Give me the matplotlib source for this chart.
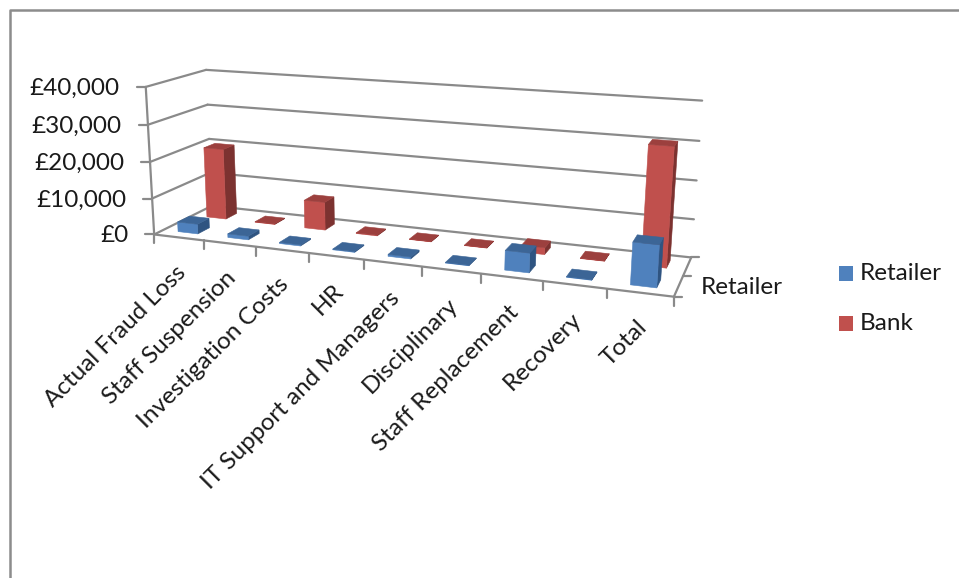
import matplotlib
matplotlib.use('Agg')
import matplotlib.pyplot as plt
from matplotlib.patches import Polygon, Rectangle
import numpy as np

categories = ['Actual Fraud Loss', 'Staff Suspension', 'Investigation Costs', 'HR',
              'IT Support and Managers', 'Disciplinary', 'Staff Replacement', 'Recovery', 'Total']
series_names = ['Retailer', 'Bank']
retailer = [2700, 1000, 300, 200, 500, 150, 5000, 150, 10500]
bank = [20000, 150, 7800, 200, 100, 100, 1800, 100, 30500]
y_ticks = [0, 10000, 20000, 30000, 40000]
y_labels = ['£0', '£10,000', '£20,000', '£30,000', '£40,000']

blue = {'front': '#4f81bd', 'top': '#3c6596', 'side': '#2f5481'}
red = {'front': '#c0504d', 'top': '#9c403e', 'side': '#7c3230'}
line_col = '#8a8a8a'
text_col = '#1a1a1a'
ymax = 40000.0
ncat = len(categories)
gap = 0.3   # space each side of a bar inside its cell

plt.rcParams['font.family'] = ['Lato', 'DejaVu Sans']

# camera: (category, depth, value) -> pixel, solved from where the box corners sit on the canvas
anchors = [
    (0, 0, 0, 155, 234), (0, 0, 1, 146, 87), (0, 0, .25, 152, 198), (0, 0, .5, 150, 162), (0, 0, .75, 147, 125),
    (0, 1, 0, 212, 207), (0, 1, 1, 207, 70), (0, 1, .5, 208, 138),
    (1, 1, 0, 691, 257), (1, 1, 1, 702, 101), (1, 1, .5, 697, 180),
    (1, 0, 0, 674, 297), (3 / 9, 0, 0, 309, 253), (6 / 9, 0, 0, 481, 274),
]
rows = []
for X, Y, Z, u, v in anchors:
    u, v = u / 500.0, v / 500.0
    rows.append([X, Y, Z, 1, 0, 0, 0, 0, -u * X, -u * Y, -u * Z, -u])
    rows.append([0, 0, 0, 0, X, Y, Z, 1, -v * X, -v * Y, -v * Z, -v])
cam = np.linalg.svd(np.array(rows))[2][-1].reshape(3, 4)


def project(cat, depth, val):
    p = cam @ np.array([cat / ncat, depth / 2.0, val / ymax, 1.0])
    return p[0] / p[2] * 500.0, p[1] / p[2] * 500.0


fig = plt.figure(figsize=(9.59, 5.78), dpi=100)
ax = fig.add_axes([0, 0, 1, 1])
ax.set_xlim(0, 959)
ax.set_ylim(578, 0)
ax.axis('off')

# outer chart frame
ax.plot([10, 10, 959], [578, 9.5, 9.5], color='#8c8c8c', lw=1.8, solid_capstyle='butt')


def seg(a, b, dx=0, dy=0, lw=1.6):
    pa = project(*a)
    pb = project(*b)
    ax.plot([pa[0], pb[0] + dx], [pa[1], pb[1] + dy], color=line_col, lw=lw, solid_capstyle='round')


# walls and value axis
for t in y_ticks:
    seg((0, 0, t), (0, 2, t))
    seg((0, 2, t), (ncat, 2, t))
    seg((0, 0, t), (0, 0, t), dx=-9)
seg((0, 0, 0), (0, 0, ymax))

# floor edges, category and depth ticks
seg((0, 0, 0), (ncat, 0, 0))
seg((ncat, 0, 0), (ncat, 2, 0))
for i in range(ncat + 1):
    seg((i, 0, 0), (i, 0, 0), dy=9)
for d in [0, 1, 2]:
    seg((ncat, d, 0), (ncat, d, 0), dx=8)


def draw_bar(i, d, val, cols):
    x0, x1 = i + gap, i + 1 - gap
    y0, y1 = d + gap, d + 1 - gap
    front = [project(x0, y0, 0), project(x1, y0, 0), project(x1, y0, val), project(x0, y0, val)]
    side = [project(x1, y0, 0), project(x1, y1, 0), project(x1, y1, val), project(x1, y0, val)]
    top = [project(x0, y0, val), project(x1, y0, val), project(x1, y1, val), project(x0, y1, val)]
    ax.add_patch(Polygon(side, closed=True, fc=cols['side'], ec=cols['side'], lw=0.4, zorder=3))
    ax.add_patch(Polygon(front, closed=True, fc=cols['front'], ec=cols['front'], lw=0.4, zorder=3))
    ax.add_patch(Polygon(top, closed=True, fc=cols['top'], ec=cols['top'], lw=0.4, zorder=3))


# back row first so the front row sits over it
for i, v in enumerate(bank):
    draw_bar(i, 1, v, red)
for i, v in enumerate(retailer):
    draw_bar(i, 0, v, blue)

fs = 17.5
for t, lab in zip(y_ticks, y_labels):
    px, py = project(0, 0, t)
    ax.text(px - 26, py + 1.5, lab, ha='right', va='center', fontsize=fs, color=text_col)

for i, lab in enumerate(categories):
    px, py = project(i + 0.5, 0, 0)
    ax.text(px - 4, py + 24, lab, rotation=45, rotation_mode='anchor', ha='right', va='top',
            fontsize=fs, color=text_col)

ax.text(701, 287, series_names[0], ha='left', va='center', fontsize=fs, color=text_col)

# legend
for name, col, yy in zip(series_names, [blue['front'], red['front']], [273.5, 323]):
    ax.add_patch(Rectangle((839, yy - 7.5), 14, 15, fc=col, ec='none'))
    ax.text(860, yy, name, ha='left', va='center', fontsize=fs, color=text_col)

fig.savefig('out.png', dpi=100)
